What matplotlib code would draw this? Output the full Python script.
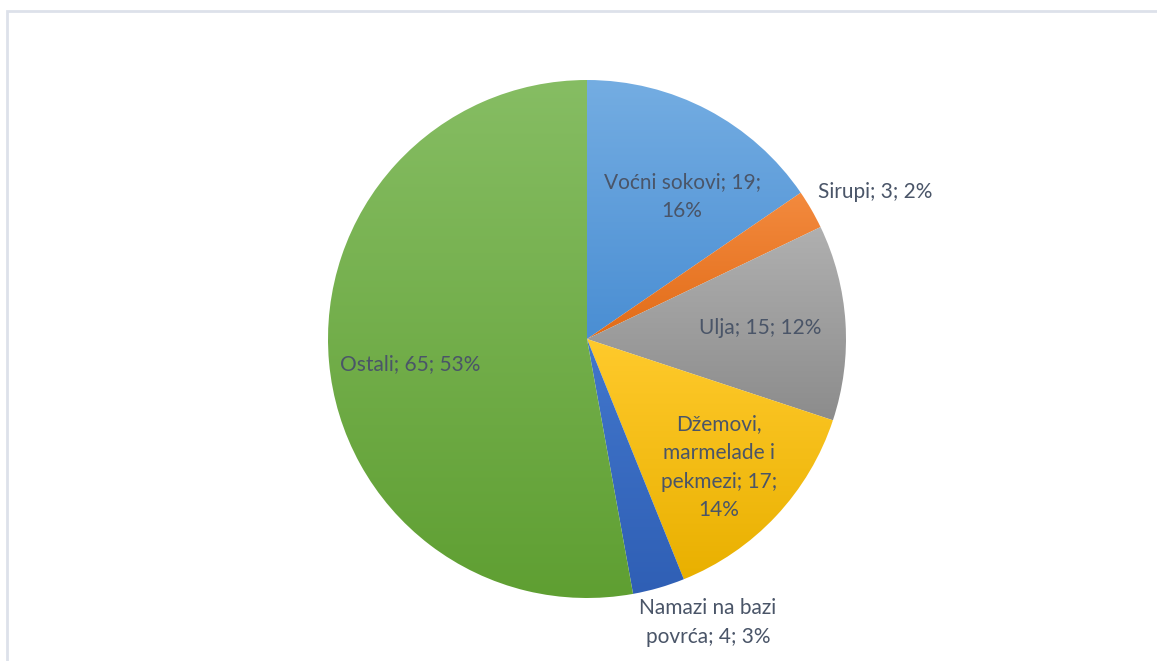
import matplotlib.pyplot as plt
import numpy as np
from matplotlib.colors import LinearSegmentedColormap
from matplotlib.patches import Rectangle

# data
categories = ['Voćni sokovi', 'Sirupi', 'Ulja', 'Džemovi, marmelade i pekmezi',
              'Namazi na bazi povrća', 'Ostali']
values = [19, 3, 15, 17, 4, 65]
percents = [16, 2, 12, 14, 3, 53]
label_texts = ['Voćni sokovi; 19;\n16%', 'Sirupi; 3; 2%', 'Ulja; 15; 12%',
               'Džemovi,\nmarmelade i\npekmezi; 17;\n14%', 'Namazi na bazi\npovrća; 4; 3%',
               'Ostali; 65; 53%']

# gradient colours (top, bottom) per slice, excel style
top_colors = ['#74ade2', '#f38a3e', '#b0b0b0', '#ffca2c', '#4277cc', '#86bd63']
bot_colors = ['#4a8ed3', '#e26c18', '#8c8c8c', '#e9b000', '#2f5fb5', '#5f9f32']

# label placement: (angle shift deg, radius factor)
label_pos = [(-6, 0.66), (-3, 1.25), (0, 0.67), (-1, 0.71), (7, 1.19), (3, 0.69)]

W, H = 1157, 661
cx, cy, R = 587, H - 339, 259

fig = plt.figure(figsize=(W / 100, H / 100), dpi=100)
ax = fig.add_axes([0, 0, 1, 1])

wedges, _ = ax.pie(values, startangle=90, counterclock=False, radius=R,
                   center=(cx, cy), colors=bot_colors,
                   wedgeprops=dict(linewidth=0))

ax.set_xlim(0, W)
ax.set_ylim(0, H)
ax.set_aspect('equal')
ax.axis('off')

# vertical gradient fill for each slice
grad = np.linspace(0, 1, 256).reshape(-1, 1)
for w, c1, c2 in zip(wedges, top_colors, bot_colors):
    w.set_facecolor('none')
    ext = w.get_path().get_extents(w.get_patch_transform())
    cmap = LinearSegmentedColormap.from_list('g', [c2, c1])
    im = ax.imshow(grad, cmap=cmap, origin='lower', aspect='auto',
                   extent=[ext.x0, ext.x1, ext.y0, ext.y1], zorder=1)
    im.set_clip_path(w)

for w, txt, (da, f) in zip(wedges, label_texts, label_pos):
    mid = np.deg2rad((w.theta1 + w.theta2) / 2 + da)
    x = cx + R * f * np.cos(mid)
    y = cy + R * f * np.sin(mid)
    ax.text(x, y, txt, ha='center', va='center', fontsize=15, family='Lato',
            color='#4a5568', linespacing=1.55, zorder=3)

# light frame of the chart area
ax.add_patch(Rectangle((7, -20), W + 20, H - 11 + 20, fill=False,
                       edgecolor='#dde1ea', linewidth=2, clip_on=False, zorder=0))

plt.savefig('out.png', dpi=100)
